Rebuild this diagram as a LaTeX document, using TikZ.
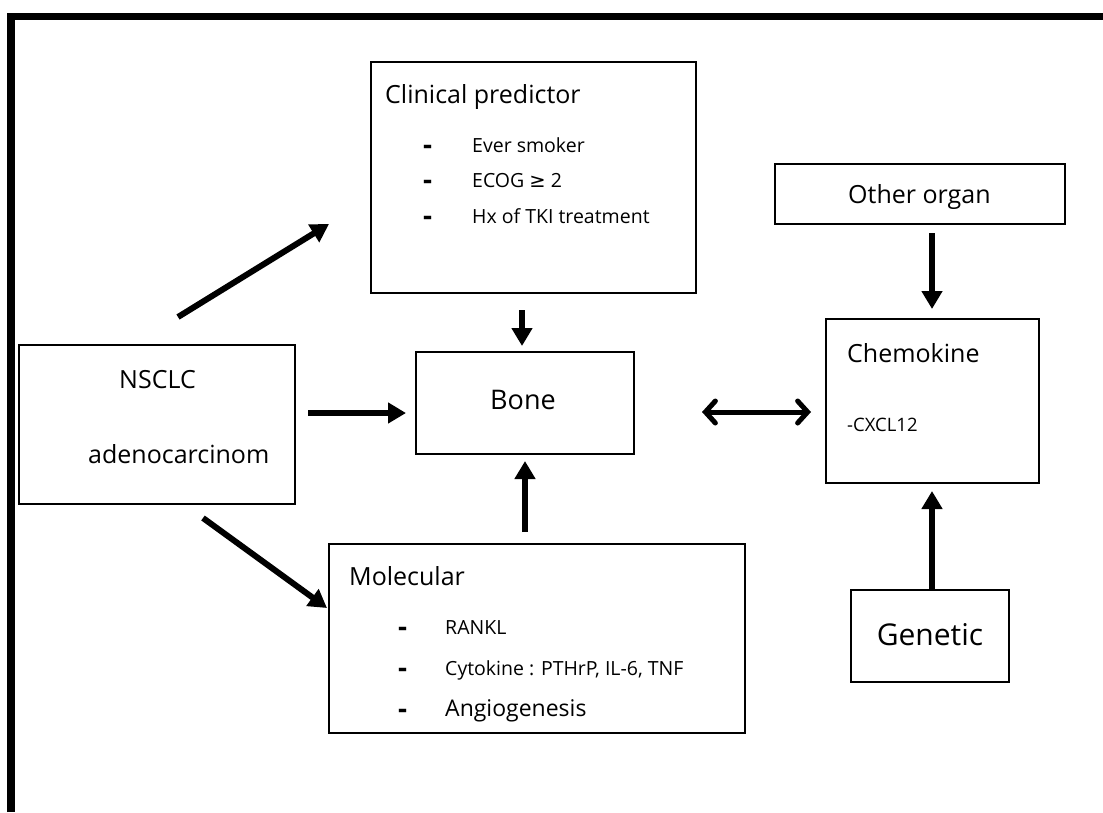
\documentclass[tikz,border=0pt]{standalone}
\usepackage{fontspec}
\setmainfont{Open Sans}
\newfontfamily\dejavu{DejaVu Sans}
\usetikzlibrary{arrows.meta}
\begin{document}
\begin{tikzpicture}[x=1pt,y=-1pt,
  box/.style={draw,line width=2pt,rectangle,inner sep=0pt},
  txt/.style={inner sep=0pt,anchor=base west},
  ttl/.style={txt,font=\fontsize{25}{30}\selectfont},
  itm/.style={txt,font=\fontsize{19.5}{24}\selectfont},
  dsh/.style={txt,font=\fontsize{28}{30}\selectfont\bfseries},
  arr/.style={line width=6pt,-{Triangle[length=18pt,width=20pt]}},
  darr/.style={line width=5pt,line cap=round,{Straight Barb[length=10pt,width=22pt,line cap=round]}-{Straight Barb[length=10pt,width=22pt,line cap=round]}}]
\useasboundingbox (0,0) rectangle (1103,812);
% frame
\draw[line width=7.5pt,line join=miter] (11,812) -- (11,16.5) -- (1103,16.5);
% boxes
\node[box,minimum width=325pt,minimum height=231pt] (clin) at (533.5,177.5) {};
\node[box,minimum width=290pt,minimum height=60pt] (other) at (920,194) {};
\node[box,minimum width=213pt,minimum height=164pt] (chem) at (932.5,401) {};
\node[box,minimum width=276pt,minimum height=159pt] (nsclc) at (157,424.5) {};
\node[box,minimum width=218pt,minimum height=102pt] (bone) at (525,403) {};
\node[box,minimum width=416pt,minimum height=189pt] (mol) at (537,638.5) {};
\node[box,minimum width=158pt,minimum height=92pt] (gen) at (930,636) {};
% texts
\node[ttl] (t1) at (385,103) {Clinical predictor};
\node[dsh] (d1) at (423,154) {-};
\node[itm] (i1) at (472,152) {Ever smoker};
\node[dsh] (d2) at (423,189) {-};
\node[itm] (i2) at (472,187) {ECOG {\dejavu ≥} 2};
\node[dsh] (d3) at (423,225) {-};
\node[itm] (i3) at (472,223) {Hx of TKI treatment};
\node[ttl] (t2) at (848,203) {Other organ};
\node[ttl] (t3) at (847,362) {Chemokine};
\node[txt,font=\fontsize{18.5}{22}\selectfont] (t4) at (847,431) {-CXCL12};
\node[ttl] (t5) at (119,388) {NSCLC};
\node[ttl] (t6) at (88,463) {adenocarcinom};
\node[inner sep=0pt,anchor=base,font=\fontsize{27}{32}\selectfont] (t7) at (523,409) {Bone};
\node[ttl] (t8) at (349,585) {Molecular};
\node[dsh] (d4) at (398,636) {-};
\node[itm] (i4) at (445,634) {RANKL};
\node[dsh] (d5) at (398,677) {-};
\node[itm] (i5) at (445,675) {Cytokine : PTHrP, IL-6, TNF};
\node[dsh] (d6) at (398,718) {-};
\node[itm,font=\fontsize{23}{28}\selectfont] (i6) at (445,716) {Angiogenesis};
\node[inner sep=0pt,anchor=base,font=\fontsize{30}{36}\selectfont] (t9) at (930,645) {Genetic};
% arrow end points
\coordinate (a1s) at (178,317); \coordinate (a1e) at (329,224);
\coordinate (a2s) at (308,413); \coordinate (a2e) at (406,413);
\coordinate (a3s) at (203,518); \coordinate (a3e) at (327,608);
\coordinate (a4s) at (522,310); \coordinate (a4e) at (522,346);
\coordinate (a5s) at (525,532); \coordinate (a5e) at (525,461);
\coordinate (a6s) at (702,412); \coordinate (a6e) at (811,412);
\coordinate (a7s) at (932,233); \coordinate (a7e) at (932,309);
\coordinate (a8s) at (932,589); \coordinate (a8e) at (932,491);
\draw[arr] (a1s) -- (a1e);
\draw[arr] (a2s) -- (a2e);
\draw[arr] (a3s) -- (a3e);
\draw[arr] (a4s) -- (a4e);
\draw[arr] (a5s) -- (a5e);
\draw[darr] (a6s) -- (a6e);
\draw[arr] (a7s) -- (a7e);
\draw[arr] (a8s) -- (a8e);
\end{tikzpicture}
\end{document}
